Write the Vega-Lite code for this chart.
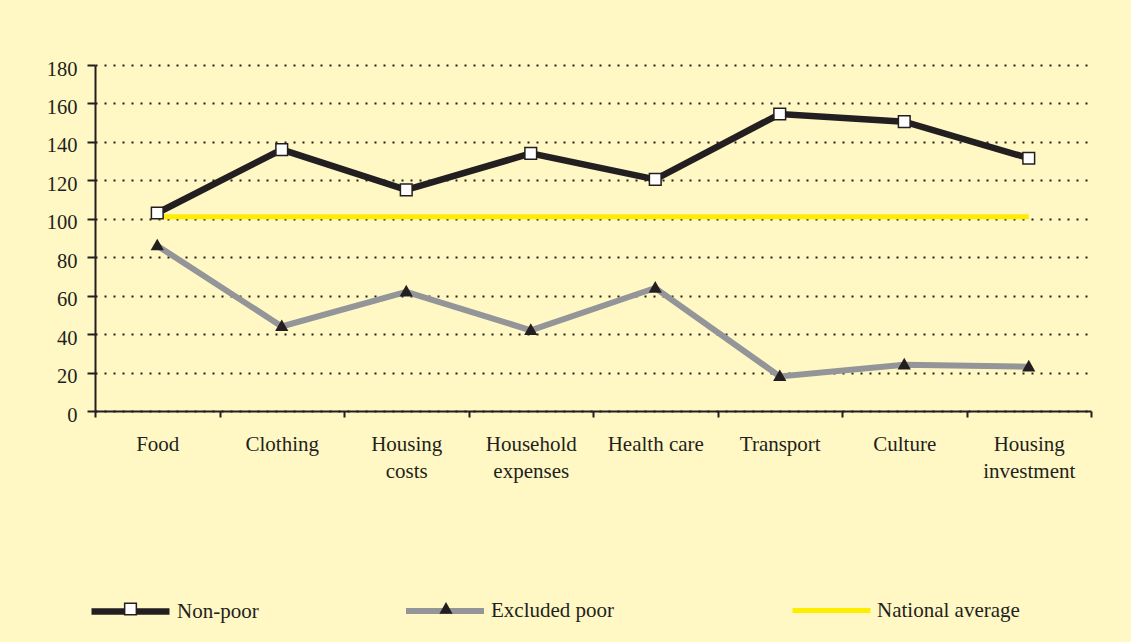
{
  "$schema": "https://vega.github.io/schema/vega-lite/v6.json",
  "width": 996,
  "height": 346,
  "autosize": {"type": "none"},
  "padding": {"left": 95, "top": 65, "right": 40, "bottom": 231},
  "background": "#FFF8C4",
  "config": {
    "view": {"stroke": null},
    "font": "Liberation Serif",
    "legend": {
      "orient": "none",
      "title": null,
      "padding": 0,
      "labelFont": "Liberation Serif",
      "labelFontSize": 21,
      "labelColor": "#231f20",
      "labelOffset": 4,
      "symbolSize": 6084
    }
  },
  "datasets": {
    "d": [
      {"category": "Food", "series": "Non-poor", "value": 103},
      {"category": "Clothing", "series": "Non-poor", "value": 136},
      {"category": "Housing costs", "series": "Non-poor", "value": 115},
      {"category": "Household expenses", "series": "Non-poor", "value": 134},
      {"category": "Health care", "series": "Non-poor", "value": 120.5},
      {"category": "Transport", "series": "Non-poor", "value": 154.5},
      {"category": "Culture", "series": "Non-poor", "value": 150.5},
      {"category": "Housing investment", "series": "Non-poor", "value": 131.5},
      {"category": "Food", "series": "Excluded poor", "value": 86},
      {"category": "Clothing", "series": "Excluded poor", "value": 44},
      {"category": "Housing costs", "series": "Excluded poor", "value": 62},
      {"category": "Household expenses", "series": "Excluded poor", "value": 42},
      {"category": "Health care", "series": "Excluded poor", "value": 64},
      {"category": "Transport", "series": "Excluded poor", "value": 18},
      {"category": "Culture", "series": "Excluded poor", "value": 24},
      {"category": "Housing investment", "series": "Excluded poor", "value": 23},
      {"category": "Food", "series": "National average", "value": 101},
      {"category": "Clothing", "series": "National average", "value": 101},
      {"category": "Housing costs", "series": "National average", "value": 101},
      {"category": "Household expenses", "series": "National average", "value": 101},
      {"category": "Health care", "series": "National average", "value": 101},
      {"category": "Transport", "series": "National average", "value": 101},
      {"category": "Culture", "series": "National average", "value": 101},
      {"category": "Housing investment", "series": "National average", "value": 101}
    ]
  },
  "data": {"name": "d"},
  "encoding": {
    "x": {
      "field": "category",
      "type": "nominal",
      "sort": null,
      "scale": {"type": "band", "paddingInner": 0, "paddingOuter": 0},
      "axis": {
        "title": null,
        "labelAngle": 0,
        "labelFont": "Liberation Serif",
        "labelFontSize": 21,
        "labelColor": "#231f20",
        "labelBaseline": "top",
        "labelPadding": 16,
        "labelLineHeight": 27.5,
        "labelExpr": "isValid(datum.value) ? (datum.value == 'Health care' ? datum.value : split(datum.value, ' ')) : ''",
        "domainColor": "#231f20",
        "domainWidth": 2,
        "tickColor": "#231f20",
        "tickWidth": 2,
        "tickSize": 6,
        "tickBand": "extent",
        "grid": false
      }
    },
    "y": {
      "field": "value",
      "type": "quantitative",
      "scale": {"domain": [0, 180], "nice": false},
      "axis": {
        "title": null,
        "values": [0, 20, 40, 60, 80, 100, 120, 140, 160, 180],
        "labelFont": "Liberation Serif",
        "labelFontSize": 20.5,
        "labelColor": "#231f20",
        "labelPadding": 10,
        "labelOffset": 4,
        "domainColor": "#231f20",
        "domainWidth": 2,
        "tickColor": "#231f20",
        "tickWidth": 2,
        "tickSize": 8,
        "grid": true,
        "gridColor": "#231f20",
        "gridWidth": 2,
        "gridDash": [2, 7]
      }
    }
  },
  "layer": [
    {
      "transform": [{"filter": "datum.series == 'National average'"}],
      "mark": {"type": "line", "strokeWidth": 5},
      "encoding": {
        "color": {
          "field": "series",
          "type": "nominal",
          "scale": {"domain": ["National average"], "range": ["#FFED00"]},
          "legend": {"legendX": 695, "legendY": 504, "symbolType": "stroke", "symbolStrokeWidth": 5, "labelOffset": 4}
        }
      }
    },
    {
      "transform": [{"filter": "datum.series == 'Excluded poor'"}],
      "mark": {"type": "line", "strokeWidth": 6},
      "encoding": {
        "color": {
          "field": "series",
          "type": "nominal",
          "scale": {"domain": ["Excluded poor"], "range": ["#939598"]},
          "legend": {"legendX": 308, "legendY": 504, "symbolType": "stroke", "symbolStrokeWidth": 6}
        }
      }
    },
    {
      "transform": [{"filter": "datum.series == 'Non-poor'"}],
      "mark": {"type": "line", "strokeWidth": 6.5},
      "encoding": {
        "color": {
          "field": "series",
          "type": "nominal",
          "scale": {"domain": ["Non-poor"], "range": ["#231f20"]},
          "legend": {"legendX": -7, "legendY": 504, "symbolType": "M-1,0H-0.13M0.13,0H1", "symbolStrokeWidth": 6.5}
        }
      }
    },
    {
      "transform": [{"filter": "datum.series == 'Excluded poor'"}],
      "mark": {"type": "point", "filled": true, "fill": "#231f20", "strokeWidth": 0, "size": 6084, "opacity": 1},
      "encoding": {
        "shape": {
          "field": "series",
          "type": "nominal",
          "scale": {"domain": ["Excluded poor"], "range": ["M0,-0.18L0.17,0.12L-0.17,0.12Z"]},
          "legend": {
            "legendX": 311, "legendY": 504, "labelExpr": "''",
            "encode": {"symbols": {"update": {"fill": {"value": "#231f20"}, "strokeWidth": {"value": 0}, "opacity": {"value": 1}}}}
          }
        }
      }
    },
    {
      "transform": [{"filter": "datum.series == 'Non-poor'"}],
      "mark": {"type": "point", "filled": true, "fill": "white", "stroke": "#231f20", "strokeWidth": 1.5, "size": 6084, "opacity": 1},
      "encoding": {
        "shape": {
          "field": "series",
          "type": "nominal",
          "scale": {"domain": ["Non-poor"], "range": ["M-0.15,-0.15H0.15V0.15H-0.15Z"]},
          "legend": {
            "legendX": -4.5, "legendY": 504, "labelExpr": "''",
            "encode": {"symbols": {"update": {"fill": {"value": "white"}, "stroke": {"value": "#231f20"}, "strokeWidth": {"value": 1.5}, "opacity": {"value": 1}}}}
          }
        }
      }
    }
  ],
  "resolve": {"scale": {"color": "independent", "shape": "independent"}}
}
